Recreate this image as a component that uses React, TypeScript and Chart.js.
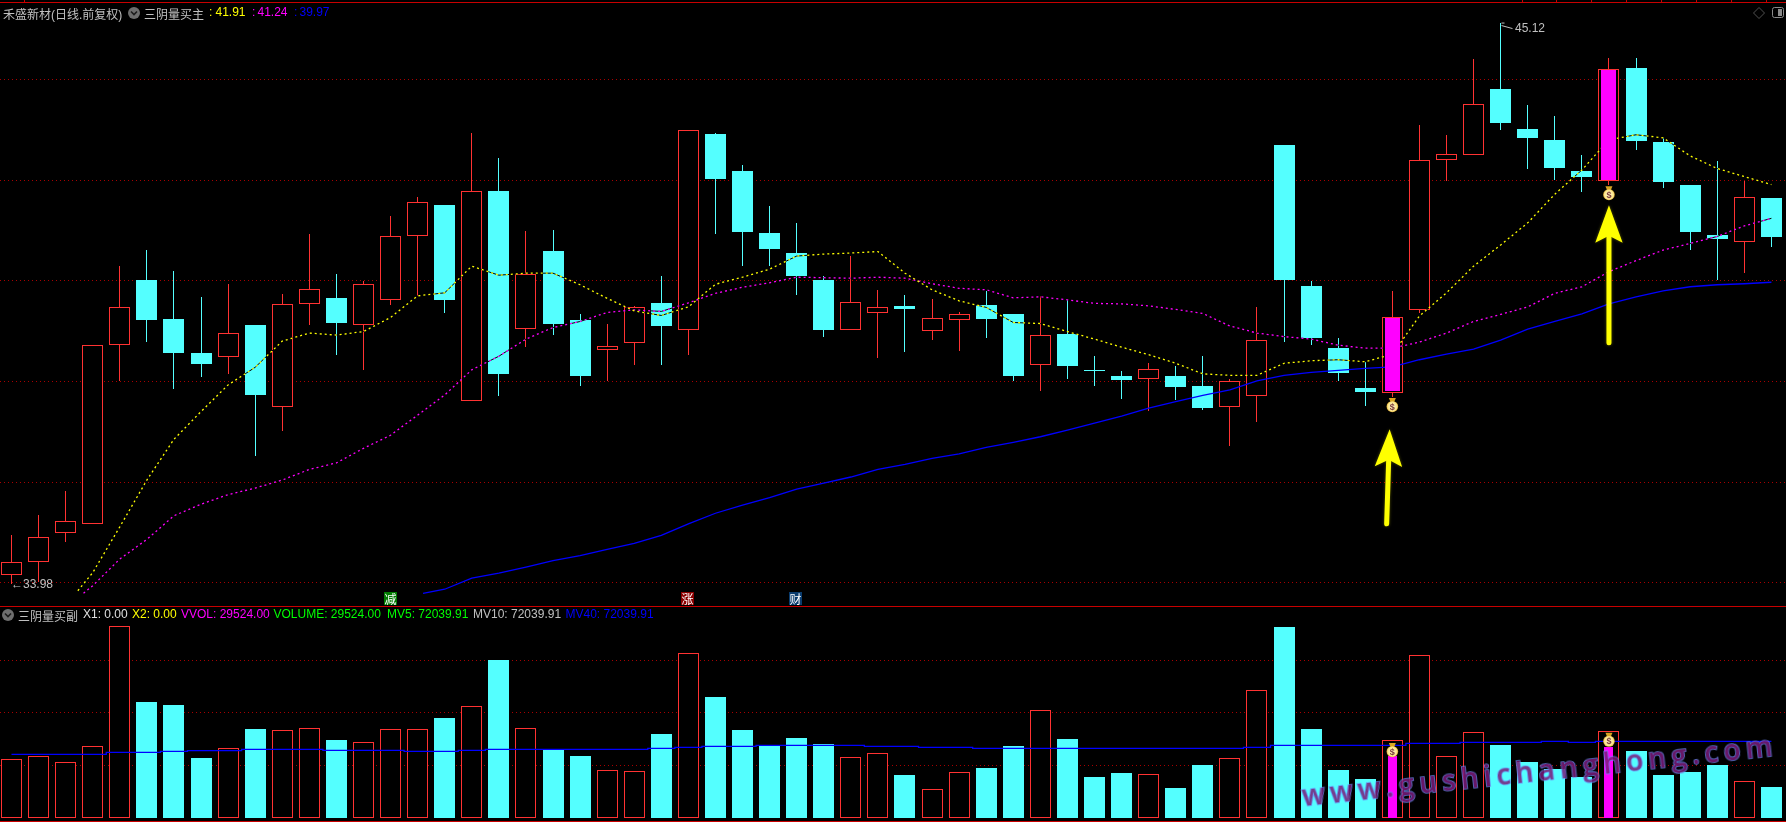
import React, { useEffect, useRef } from "react";
import { Chart, registerables } from "chart.js";

Chart.register(...registerables);

const opens = [34.16,34.42,34.99,35.17,38.72,40.01,39.24,38.56,38.49,39.12,37.50,39.54,39.66,39.13,39.61,40.88,41.51,37.62,41.78,39.05,40.59,39.22,38.62,38.77,39.56,39.03,42.92,42.18,40.95,40.55,40.01,39.03,39.36,39.50,39.01,39.21,39.52,39.34,38.33,38.94,38.23,38.11,38.05,38.11,37.91,37.50,37.70,42.70,39.90,38.66,37.87,37.77,39.42,42.39,42.50,43.81,43.02,42.80,42.18,41.98,44.23,42.76,41.90,40.91,40.76,41.64];
const closes = [34.41,34.90,35.22,38.72,39.47,39.22,38.57,38.35,38.96,37.73,39.53,39.83,39.16,39.93,40.88,41.56,39.62,41.78,38.15,40.13,39.15,38.11,38.70,39.47,39.10,42.99,42.02,40.97,40.63,40.09,39.02,39.57,39.47,39.44,39.25,39.33,39.24,38.11,38.92,38.31,38.21,38.03,38.24,37.89,37.47,38.00,38.82,40.01,38.86,38.17,37.79,39.28,42.39,42.51,43.51,43.13,42.84,42.24,42.06,44.21,42.78,41.96,40.97,40.83,41.66,40.87];
const highs = [34.95,35.35,35.82,38.72,40.29,40.61,40.19,39.68,39.94,39.12,39.74,40.93,40.13,40.00,41.29,41.66,41.51,42.94,42.44,40.99,41.01,39.34,39.14,39.50,40.09,42.99,42.94,42.30,41.49,41.15,40.09,40.49,39.82,39.72,39.64,39.38,39.80,39.34,39.70,39.62,38.50,38.21,38.37,38.31,38.50,38.05,39.48,42.70,40.00,38.86,38.39,39.80,43.09,42.90,44.41,45.12,43.49,43.27,42.50,44.43,44.43,42.84,41.90,42.38,41.98,41.64];
const lows = [33.98,34.02,34.81,35.17,38.01,38.79,37.84,38.09,38.15,36.52,37.01,39.13,38.53,38.23,39.52,39.70,39.36,37.62,37.70,38.69,38.93,37.91,38.01,38.33,38.33,38.52,40.93,40.30,40.30,39.72,38.88,39.03,38.47,38.58,38.82,38.60,38.86,38.01,37.81,38.05,37.91,37.65,37.42,37.63,37.43,36.72,37.20,38.78,38.73,38.01,37.51,37.69,39.36,41.99,42.50,43.00,42.22,42.00,41.76,41.90,42.60,41.84,40.61,40.01,40.15,40.67];

// [index, value] pairs for the averages; each starts off part-way between two sessions
const maYellowStart = [2.45, 33.84];
const maYellow = [34.20,35.11,36.04,36.85,37.40,37.93,38.28,38.80,38.96,38.92,38.99,39.27,39.70,39.76,40.29,40.11,40.15,40.15,39.92,39.65,39.40,39.31,39.48,39.93,40.07,40.23,40.49,40.53,40.55,40.58,40.15,39.82,39.60,39.47,39.17,39.15,38.99,38.84,38.68,38.53,38.36,38.15,38.12,38.12,38.36,38.41,38.43,38.39,38.54,39.30,39.76,40.29,40.71,41.15,41.72,42.20,42.80,42.90,42.84,42.48,42.23,42.07,41.91];
const maMagentaStart = [2.66, 33.79];
const maMagenta = [33.94,34.47,34.86,35.33,35.56,35.75,35.88,36.04,36.25,36.38,36.67,36.93,37.33,37.73,38.23,38.50,38.84,39.07,39.19,39.37,39.42,39.39,39.56,39.75,39.87,39.96,40.07,40.06,40.05,40.07,40.05,39.94,39.85,39.82,39.66,39.68,39.62,39.55,39.54,39.50,39.43,39.35,39.10,38.96,38.89,38.84,38.72,38.66,38.66,38.78,38.96,39.19,39.33,39.48,39.75,39.88,40.18,40.40,40.61,40.74,40.88,41.09,41.24];
const maBlueStart = [15.2, 33.79];
const maBlue = [33.87,34.09,34.19,34.31,34.44,34.54,34.66,34.78,34.94,35.17,35.38,35.54,35.69,35.86,35.98,36.10,36.25,36.35,36.47,36.56,36.69,36.79,36.90,37.03,37.17,37.31,37.47,37.60,37.72,37.83,38.01,38.12,38.18,38.22,38.26,38.29,38.43,38.54,38.64,38.82,39.04,39.19,39.34,39.54,39.68,39.80,39.88,39.92,39.94,39.97];

const volumes = [55760,58610,52910,68110,182160,110250,107400,57020,66210,84590,83320,85220,74130,71910,84270,84270,95040,106130,150160,85220,64630,58920,45300,44350,79830,156500,115000,83640,69380,76030,70330,57660,61460,40870,27240,43400,47520,68430,102330,75080,38970,42770,41500,28510,50370,56710,121330,181530,84590,45620,37070,73810,154600,58610,81420,69380,53220,46570,38970,82370,63680,40870,43720,50370,34850,29524];
const volumeLine = [60510,60510,60510,60510,62410,62410,63360,64000,64000,65260,65260,65260,64310,64310,64310,63360,63360,64310,65260,65260,65260,65260,65260,65260,66210,67160,68110,68110,69060,69060,69060,69060,68110,68110,67160,67160,66210,66210,66210,66210,66210,66210,66210,66210,66210,66210,67160,69060,69060,69060,69060,69060,70960,70960,71910,71910,71910,72860,71910,72860,72860,72860,72860,72860,72860,72860];

const signalIndex = [51, 59];
const signalVolumes = [59240, 67800];
const bagPrices = [37.53, 41.74];
const bagVolumes = [64600, 74400];
const arrowTails = [[50.79, 35.17], [59, 38.77]];
const arrowTips = [[50.9, 37.05], [59, 41.5]];
const priceGrid = [34, 36, 38, 40, 42, 44];
const volumeGrid = [50000, 100000, 150000];

const RED = "#ff3232";
const CYAN = "#54ffff";
const MAGENTA = "#ff00ff";
const YELLOW = "#ffff00";
const BLUE = "#0000ff";
const GRID = "#a80000";
const GRAY = "#c0c0c0";

const xRange = { min: -0.4247, max: 65.539 };
const sansFont = '"Liberation Sans","Noto Sans CJK SC",sans-serif';

const points = (start: number[], list: number[], first: number) => [
  { x: start[0], y: start[1] },
  ...list.map((y, i) => ({ x: first + i, y })),
];

const snapBars = {
  id: "snapBars",
  beforeDatasetsDraw(chart: any) {
    chart.getSortedVisibleDatasetMetas().forEach((meta: any) => {
      if (meta.type !== "bar") return;
      meta.data.forEach((el: any) => {
        const left = Math.round(el.x - el.width / 2);
        el.x = left + el.width / 2;
        const t = Math.round(Math.min(el.y, el.base));
        let b = Math.round(Math.max(el.y, el.base));
        if (b <= t) b = t + 1;
        el.y = t;
        el.base = b;
      });
    });
  },
};

function drawBag(ctx: CanvasRenderingContext2D, cx: number, cy: number) {
  ctx.save();
  ctx.fillStyle = "#d9a520";
  ctx.beginPath();
  ctx.moveTo(cx - 3.5, cy - 7);
  ctx.lineTo(cx + 3.5, cy - 7);
  ctx.lineTo(cx + 1.8, cy - 3);
  ctx.lineTo(cx - 1.8, cy - 3);
  ctx.closePath();
  ctx.fill();
  const g = ctx.createRadialGradient(cx, cy + 1.5, 1, cx, cy + 1.5, 6);
  g.addColorStop(0, "#fff4c0");
  g.addColorStop(0.7, "#fbe58a");
  g.addColorStop(1, "#d49a1c");
  ctx.fillStyle = g;
  ctx.beginPath();
  ctx.ellipse(cx, cy + 1.5, 5.8, 5.6, 0, 0, Math.PI * 2);
  ctx.fill();
  ctx.fillStyle = "#7c3a3a";
  ctx.font = 'bold 9px "Liberation Sans"';
  ctx.textAlign = "center";
  ctx.textBaseline = "middle";
  ctx.fillText("$", cx, cy + 2);
  ctx.restore();
}

const priceOverlay = {
  id: "priceOverlay",
  afterDatasetsDraw(chart: any) {
    const { ctx, scales } = chart;
    const { x, y } = scales;
    signalIndex.forEach((idx, n) => drawBag(ctx, x.getPixelForValue(idx), y.getPixelForValue(bagPrices[n])));
    arrowTails.forEach((tail, n) => {
      const tip = arrowTips[n];
      const x0 = x.getPixelForValue(tail[0]);
      const y0 = y.getPixelForValue(tail[1]);
      const x1 = x.getPixelForValue(tip[0]);
      const y1 = y.getPixelForValue(tip[1]);
      const angle = Math.atan2(y1 - y0, x1 - x0);
      ctx.save();
      ctx.shadowColor = "rgba(255,255,0,0.35)";
      ctx.shadowBlur = 3;
      ctx.strokeStyle = YELLOW;
      ctx.fillStyle = YELLOW;
      ctx.lineWidth = 5;
      ctx.lineCap = "round";
      ctx.beginPath();
      ctx.moveTo(x0, y0);
      ctx.lineTo(x1 - 30 * Math.cos(angle), y1 - 30 * Math.sin(angle));
      ctx.stroke();
      ctx.translate(x1, y1);
      ctx.rotate(angle + Math.PI / 2);
      ctx.beginPath();
      ctx.moveTo(0, 0);
      ctx.lineTo(13.7, 37.5);
      ctx.lineTo(0, 30.5);
      ctx.lineTo(-13.7, 37.5);
      ctx.closePath();
      ctx.fill();
      ctx.restore();
    });
    // high-price flag
    const hx = Math.round(x.getPixelForValue(55)) + 0.5;
    const hy = y.getPixelForValue(45.12);
    ctx.save();
    ctx.strokeStyle = GRAY;
    ctx.lineWidth = 1;
    ctx.beginPath();
    ctx.moveTo(hx, hy);
    ctx.lineTo(hx + 3, hy);
    ctx.moveTo(hx, hy + 2.5);
    ctx.lineTo(hx + 11, hy + 5.5);
    ctx.stroke();
    ctx.restore();
  },
};

const volumeOverlay = {
  id: "volumeOverlay",
  afterDatasetsDraw(chart: any) {
    const { ctx, scales } = chart;
    signalIndex.forEach((idx, n) =>
      drawBag(ctx, scales.x.getPixelForValue(idx), scales.y.getPixelForValue(bagVolumes[n]))
    );
  },
};

const baseOptions = (yMin: number, yMax: number, grid: number[]) => ({
  responsive: false,
  animation: false,
  devicePixelRatio: 1,
  layout: { padding: 0 },
  plugins: { legend: { display: false }, tooltip: { enabled: false } },
  scales: {
    x: { type: "linear", min: xRange.min, max: xRange.max, offset: false, display: false, grid: { offset: false } },
    y: {
      type: "linear",
      min: yMin,
      max: yMax,
      beginAtZero: false,
      ticks: { display: false, autoSkip: false },
      border: { display: false, dash: [1, 3] },
      grid: { color: GRID, lineWidth: 1, drawTicks: false },
      afterBuildTicks: (scale: any) => {
        scale.ticks = grid.map((value) => ({ value }));
      },
    },
  },
});

const barSet = (label: string, data: any[], color: string, thickness: number, order: number, border?: string) => ({
  type: "bar",
  label,
  data,
  grouped: false,
  barThickness: thickness,
  inflateAmount: 0,
  backgroundColor: color,
  borderColor: border ?? color,
  borderWidth: border ? 1 : 0,
  borderSkipped: false,
  order,
});

const lineSet = (label: string, data: any[], color: string, order: number, dash: number[] = [], width = 1) => ({
  type: "line",
  label,
  data,
  borderColor: color,
  borderWidth: width,
  borderDash: dash,
  pointRadius: 0,
  tension: 0,
  fill: false,
  order,
});

const all = opens.map((_, i) => i);
const isUp = (i: number) => closes[i] >= opens[i];

function Label({ x, y, color = GRAY, children }: any) {
  return (
    <span
      style={{
        position: "absolute",
        left: x,
        top: y - 8,
        lineHeight: "16px",
        height: 16,
        color,
        font: `12px ${sansFont}`,
        whiteSpace: "pre",
      }}
    >
      {children}
    </span>
  );
}

function Chevron({ x, y }: { x: number; y: number }) {
  return (
    <svg width={14} height={14} style={{ position: "absolute", left: x - 7, top: y - 7 }}>
      <circle cx={7} cy={7} r={6} fill="#6e6e6e" />
      <path d="M4 5.5 L7 8.5 L10 5.5" fill="none" stroke="#1c1c1c" strokeWidth={1.6} />
    </svg>
  );
}

function Mark({ x, bg, text }: { x: number; bg: string; text: string }) {
  return (
    <span
      style={{
        position: "absolute",
        left: x,
        top: 592,
        width: 13,
        height: 13,
        background: bg,
        color: "#fff",
        font: '12px/13px "Noto Sans CJK SC"',
        textAlign: "center",
      }}
    >
      {text}
    </span>
  );
}

const topTicks = [24, 1522, 1556, 1591, 1626, 1661, 1696, 1731, 1766];

export default function App() {
  const priceRef = useRef<HTMLCanvasElement>(null);
  const volumeRef = useRef<HTMLCanvasElement>(null);

  useEffect(() => {
    const wicks = (up: boolean) =>
      all.filter((i) => isUp(i) === up).map((i) => ({ x: i, y: [lows[i], highs[i]] }));
    const bodies = (up: boolean) =>
      all.filter((i) => isUp(i) === up).map((i) => ({ x: i, y: [opens[i], closes[i]] }));
    const priceChart = new Chart(priceRef.current as any, {
      type: "bar",
      data: {
        datasets: [
          barSet("涨影线", wicks(true), RED, 1, 20),
          barSet("跌影线", wicks(false), CYAN, 1, 20),
          barSet("跌", bodies(false), CYAN, 21, 19),
          barSet("涨", bodies(true), "#000000", 21, 19, RED),
          lineSet("yellow-bg", points(maYellowStart, maYellow, 3), "#000000", 12),
          lineSet("magenta-bg", points(maMagentaStart, maMagenta, 3), "#000000", 12),
          lineSet("MA40", points(maBlueStart, maBlue, 16), BLUE, 11, [], 1.3),
          lineSet("MA5", points(maYellowStart, maYellow, 3), YELLOW, 10, [2, 3], 1.3),
          lineSet("MA10", points(maMagentaStart, maMagenta, 3), MAGENTA, 10, [2, 3], 1.3),
          barSet(
            "买点",
            signalIndex.map((i) => ({ x: i, y: [opens[i] + 0.03, closes[i] - 0.03] })),
            MAGENTA,
            15,
            1
          ),
        ] as any,
      },
      options: baseOptions(33.537, 45.578, priceGrid) as any,
      plugins: [snapBars, priceOverlay],
    });

    const volBars = (up: boolean) =>
      all.filter((i) => isUp(i) === up).map((i) => ({ x: i, y: volumes[i] }));
    const volumeChart = new Chart(volumeRef.current as any, {
      type: "bar",
      data: {
        datasets: [
          barSet("跌量", volBars(false), CYAN, 21, 10),
          barSet("涨量", volBars(true), "#000000", 21, 10, RED),
          lineSet("MV40", volumeLine.map((y, x) => ({ x, y })), BLUE, 5, [], 1.3),
          barSet("买点量", signalIndex.map((x, n) => ({ x, y: signalVolumes[n] })), MAGENTA, 9, 3),
        ].map((d: any) => (d.label === "MV40" ? { ...d, stepped: "middle" } : d)) as any,
      },
      options: baseOptions(-3802, 200534, volumeGrid) as any,
      plugins: [snapBars, volumeOverlay],
    });

    return () => {
      priceChart.destroy();
      volumeChart.destroy();
    };
  }, []);

  return (
    <div style={{ position: "fixed", left: 0, top: 0, width: 1786, height: 822, background: "#000", overflow: "hidden" }}>
      <canvas ref={priceRef} width={1786} height={606} style={{ position: "absolute", left: 0, top: 0, display: "block" }} />
      <canvas ref={volumeRef} width={1786} height={215} style={{ position: "absolute", left: 0, top: 607, display: "block" }} />

      <div style={{ position: "absolute", left: 0, top: 2, width: 1786, height: 1, background: "#c80000" }} />
      {topTicks.map((x) => (
        <div key={x} style={{ position: "absolute", left: x, top: 0, width: 1, height: 2, background: "#c80000" }} />
      ))}
      <div style={{ position: "absolute", left: 0, top: 606, width: 1786, height: 1, background: "#c80000" }} />
      <div style={{ position: "absolute", left: 0, top: 821, width: 1786, height: 1, background: "#c80000" }} />

      <Label x={3} y={12.5}>禾盛新材(日线.前复权)</Label>
      <Chevron x={134} y={12.5} />
      <Label x={144} y={12.5}>三阴量买主</Label>
      <Label x={209} y={12.5} color={YELLOW}>:</Label>
      <Label x={215.5} y={12.5} color={YELLOW}>41.91</Label>
      <Label x={252} y={12.5} color={MAGENTA}>:</Label>
      <Label x={257.5} y={12.5} color={MAGENTA}>41.24</Label>
      <Label x={294} y={12.5} color={BLUE}>:</Label>
      <Label x={299.5} y={12.5} color={BLUE}>39.97</Label>

      <Label x={1515} y={28.5}>45.12</Label>
      <Label x={11} y={584.5}>←33.98</Label>

      <svg width={14} height={14} style={{ position: "absolute", left: 1752, top: 6 }}>
        <path d="M7 1.5 L12.5 7 L7 12.5 L1.5 7 Z" fill="none" stroke="#505050" />
      </svg>
      <svg width={14} height={14} style={{ position: "absolute", left: 1771, top: 6 }}>
        <rect x={1.5} y={1.5} width={11} height={10} rx={2} fill="none" stroke="#8a8a8a" />
        <rect x={7} y={3} width={4} height={7} fill="#8a8a8a" />
      </svg>

      <Mark x={384} bg="#007a00" text="减" />
      <Mark x={681} bg="#8a0000" text="涨" />
      <Mark x={789} bg="#0a3c6e" text="财" />

      <Chevron x={8} y={614.5} />
      <Label x={18} y={614.5}>三阴量买副</Label>
      <Label x={83} y={614.5} color="#e0e0e0">X1: 0.00</Label>
      <Label x={132} y={614.5} color={YELLOW}>X2: 0.00</Label>
      <Label x={181} y={614.5} color={MAGENTA}>VVOL: 29524.00</Label>
      <Label x={273.5} y={614.5} color="#00ff00">VOLUME: 29524.00</Label>
      <Label x={387} y={614.5} color="#00ff00">MV5: 72039.91</Label>
      <Label x={473} y={614.5}>MV10: 72039.91</Label>
      <Label x={565.5} y={614.5} color={BLUE}>MV40: 72039.91</Label>

      <div
        style={{
          position: "absolute",
          left: 1303,
          top: 776,
          lineHeight: "36px",
          font: '600 28px "Open Sans"',
          letterSpacing: 5.2,
          color: "#7a1c7a",
          WebkitTextStroke: "1.6px #6c88f2",
          paintOrder: "stroke fill",
          opacity: 0.85,
          whiteSpace: "pre",
          transform: "rotate(-6.1deg)",
          transformOrigin: "0 75%",
        }}
      >
        www.gushichanghong.com
      </div>
    </div>
  );
}
